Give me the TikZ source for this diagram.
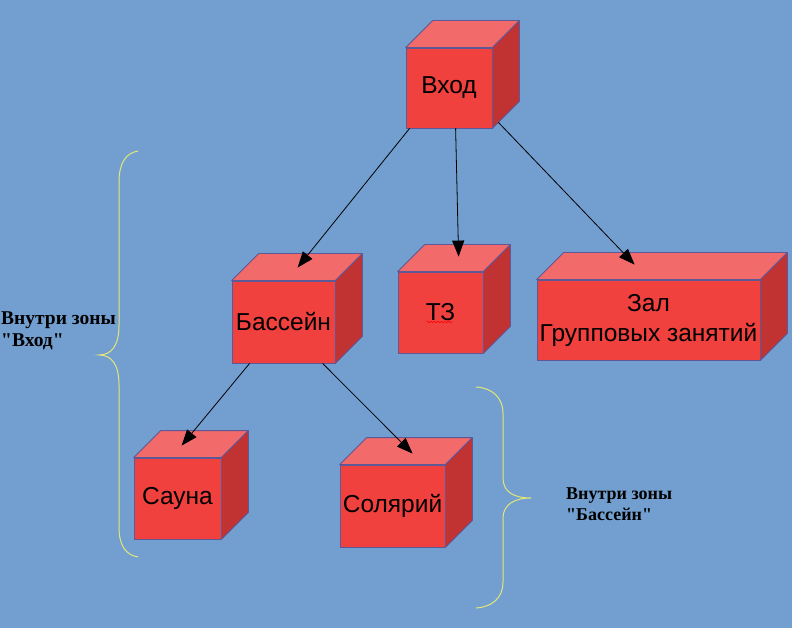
\documentclass[tikz,border=0pt]{standalone}
\usepackage{fontspec}
\setmainfont{Liberation Sans}
\newfontfamily\labelfont{Liberation Serif}
\usetikzlibrary{calc,arrows.meta,decorations.pathmorphing}
\definecolor{bgc}{RGB}{114,159,207}
\definecolor{frontc}{RGB}{240,65,63}
\definecolor{topc}{RGB}{242,106,106}
\definecolor{sidec}{RGB}{193,50,50}
\definecolor{edgec}{RGB}{94,88,150}
\definecolor{bracec}{RGB}{228,230,120}
\tikzset{
  front/.style={draw=edgec, fill=frontc, line width=0.8pt, inner sep=0pt, align=center,
    font=\fontsize{24.5}{30}\selectfont},
  facebox/.style={draw=edgec, line width=0.8pt, line join=round},
  conn/.style={draw=black, line width=0.8pt, -{Triangle[length=16pt,width=12pt]}},
  bracel/.style={draw=bracec, line width=1pt},
  zonetext/.style={inner sep=0pt, align=left, anchor=west, text=black}
}
\newcommand{\cubebox}[5]{%
  \node[front, minimum width=#3pt, minimum height=#4pt] (#1) at #2 {#5};
  \draw[facebox, fill=topc] (#1.north west) -- ($(#1.north west)+(27,-27)$) -- ($(#1.north east)+(27,-27)$) -- (#1.north east) -- cycle;
  \draw[facebox, fill=sidec] (#1.north east) -- ($(#1.north east)+(27,-27)$) -- ($(#1.south east)+(27,-27)$) -- (#1.south east) -- cycle;
}
\begin{document}
\begin{tikzpicture}[x=1pt,y=-1pt]
\fill[bgc] (0,0) rectangle (792,628);
\useasboundingbox (0,0) rectangle (792,628);

\cubebox{vhod}{(449,88)}{86}{80}{Вход}
\cubebox{bass}{(283.5,322)}{103}{82}{Бассейн}
\cubebox{tz}{(440.5,312.5)}{85}{81}{ТЗ}
\cubebox{zal}{(648.5,320)}{223}{80}{Зал\\Групповых занятий}
\cubebox{sauna}{(177.5,498.5)}{87}{81}{Сауна}
\cubebox{sol}{(392.5,506)}{105}{82}{Солярий}

\draw[red, line width=0.5pt, decorate, decoration={snake, amplitude=0.8pt, segment length=3.5pt}]
  ($(tz.center)+(-14,9.5)$) -- ($(tz.center)+(12,9.5)$);

\draw[conn] ($(vhod.south west)+(4,0)$) -- ($(bass.north west)+(66,-13)$);
\draw[conn] ($(vhod.south west)+(50,0)$) -- ($(tz.north west)+(61,-15)$);
\draw[conn] ($(vhod.south east)+(6,-6)$) -- ($(zal.north west)+(98,-15)$);
\draw[conn] ($(bass.south west)+(18,0)$) -- ($(sauna.north west)+(48,-12)$);
\draw[conn] ($(bass.south west)+(91,0)$) -- ($(sol.north west)+(73,-11)$);

\draw[bracel] (138,151) .. controls (126,153) and (119,163) .. (119,182) -- (119,325)
  .. controls (119,345) and (112,355) .. (99,355)
  .. controls (112,355) and (119,365) .. (119,385) -- (119,527)
  .. controls (119,546) and (126,555) .. (138,557);
\draw[bracel] (476,387) .. controls (492,388) and (503,397) .. (503,414) -- (503,478)
  .. controls (503,492) and (514,498) .. (531,498)
  .. controls (514,498) and (503,505) .. (503,518) -- (503,582)
  .. controls (503,598) and (492,607) .. (476,608);

\node[zonetext, font=\labelfont\bfseries\fontsize{19.5}{22}\selectfont] (zone1) at (1,331) {Внутри зоны\\"Вход"};
\node[zonetext, font=\labelfont\bfseries\fontsize{18}{20.5}\selectfont] (zone2) at (566,504) {Внутри зоны\\"Бассейн"};
\end{tikzpicture}
\end{document}
